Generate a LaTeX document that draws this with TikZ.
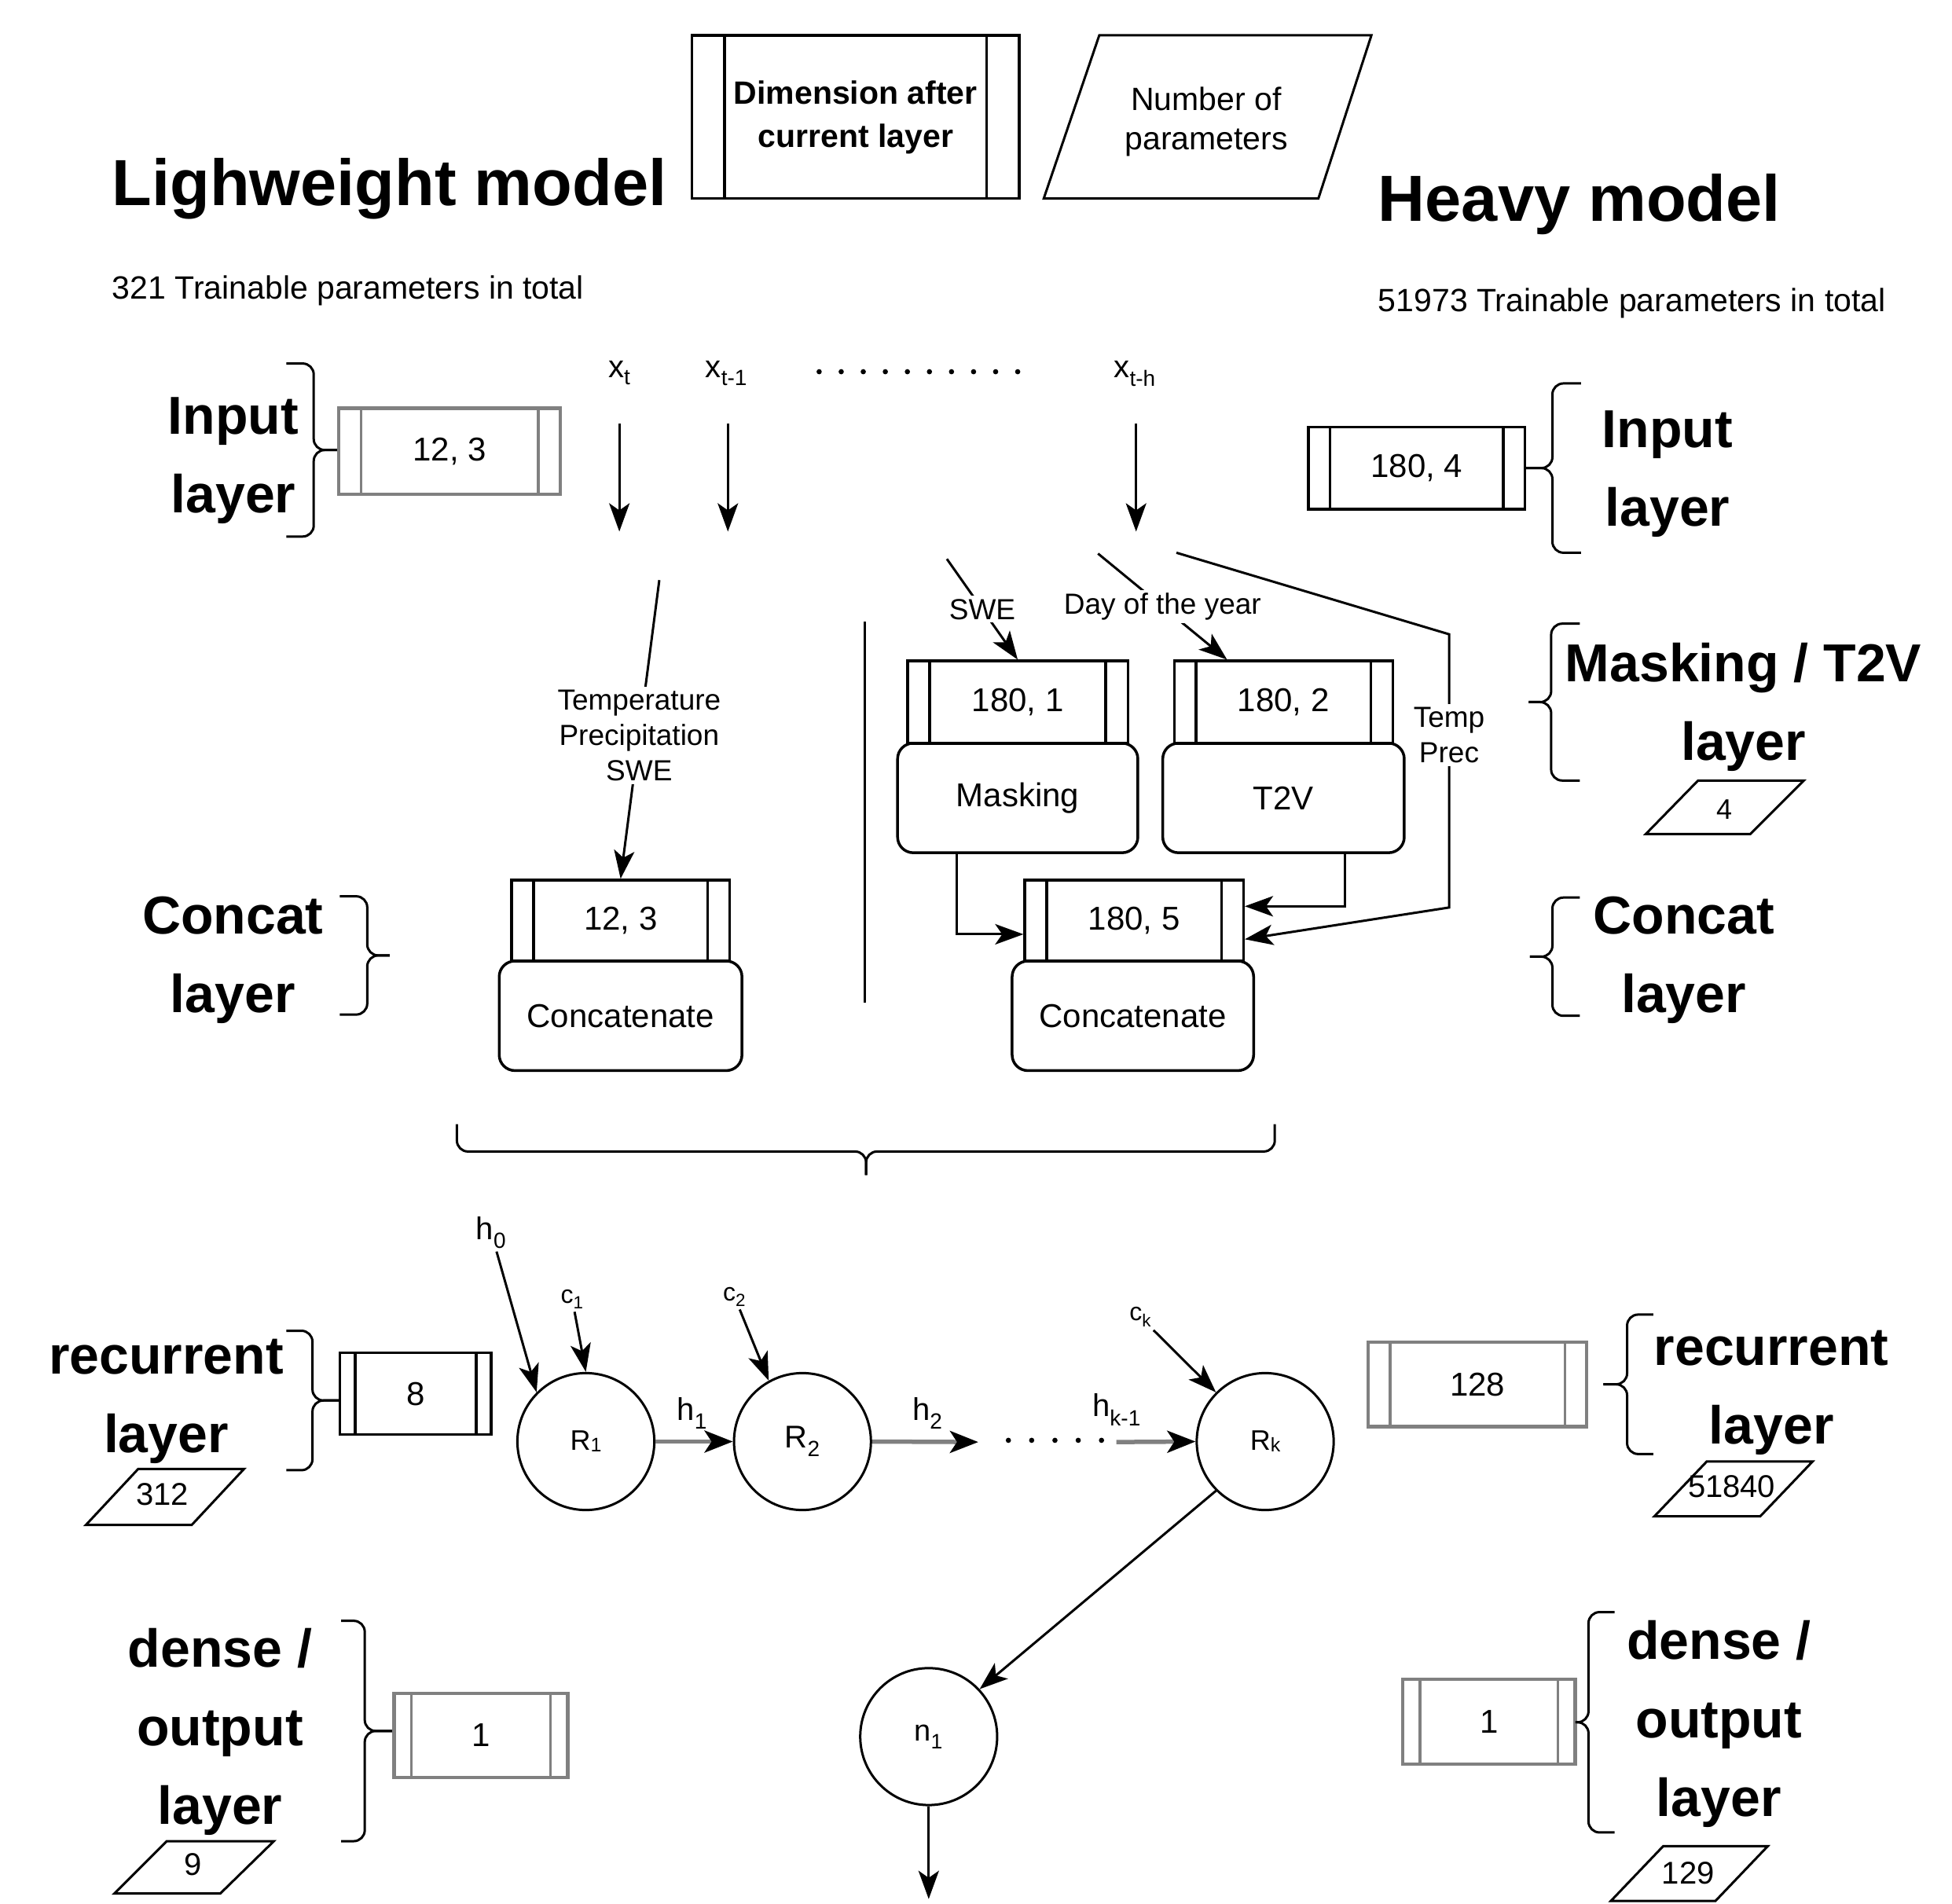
\documentclass[tikz,border=0pt]{standalone}
\usepackage{fontspec}
\setmainfont{Liberation Sans}
\usetikzlibrary{arrows.meta,calc}
\newcommand\upx{1.5842pt}
\definecolor{lg}{HTML}{808080}
\newcommand\fsz[2]{\fontsize{#1}{#2}\selectfont}
% curly brace: stub x, vertical x, tip x, top y, bottom y
\newcommand\curlyb[5]{%
  \draw[brc] (#1,#4) -- (#2,#4) -- (#2,{(#4+#5)/2}) -- (#3,{(#4+#5)/2});
  \draw[brc] (#1,#5) -- (#2,#5) -- (#2,{(#4+#5)/2}) -- (#3,{(#4+#5)/2});}
\begin{document}
\begin{tikzpicture}[x=\upx, y=-\upx,
  ln/.style={line width=3pt},
  sz/.style 2 args={minimum width=#1*\upx, minimum height=#2*\upx},
  proc/.style={draw=#1, line width=3.5pt, fill=white, inner sep=0pt, font=\fsz{42}{50},
    path picture={
      \draw[#1, line width=3.5pt]
        ($(path picture bounding box.north west)!0.1!(path picture bounding box.north east)$) --
        ($(path picture bounding box.south west)!0.1!(path picture bounding box.south east)$)
        ($(path picture bounding box.north west)!0.9!(path picture bounding box.north east)$) --
        ($(path picture bounding box.south west)!0.9!(path picture bounding box.south east)$);
    }},
  proc/.default=black,
  rbox/.style={draw, line width=3.5pt, rounded corners=20pt, fill=white, inner sep=0pt, font=\fsz{42}{50}},
  circ/.style={draw, circle, line width=3pt, minimum size=110*\upx, inner sep=0pt},
  arr/.style={line width=3pt, -{Stealth[length=36pt, width=26pt, inset=9pt]}},
  harr/.style={draw=lg, line width=5.5pt, -{Stealth[length=36pt, width=28pt, inset=9pt, color=black]}},
  brc/.style={line width=3pt, rounded corners=14pt},
  big/.style={font=\bfseries\fsz{68}{100}, align=center, inner sep=0pt},
  title/.style={font=\bfseries\fsz{83}{100}, inner sep=0pt, anchor=base west},
  subt/.style={font=\fsz{41}{50}, inner sep=0pt, anchor=base west},
  xl/.style={font=\fsz{40}{48}, inner sep=0pt, anchor=base},
  hl/.style={font=\fsz{40}{48}, inner sep=4pt},
  cl/.style={font=\fsz{32}{38}, inner sep=4pt},
  lbl/.style={font=\fsz{37}{45}, align=center, fill=white, inner sep=4pt},
  num/.style={font=\fsz{40}{48}, inner sep=0pt},
  para/.style={line width=3pt, line join=miter}
]
\useasboundingbox (0,0) rectangle (1568,1529);

% ---- titles
\node[title] (tL) at (90,165) {Lighweight model};
\node[subt] (sL) at (90,240) {321 Trainable parameters in total};
\node[title] (tH) at (1107,178) {Heavy model};
\node[subt] (sH) at (1107,250) {51973 Trainable parameters in total};

% ---- legend
\node[proc, sz={263}{131}, font=\bfseries\fsz{41}{55}, align=center] (legdim) at (687.3,94) {Dimension after\\current layer};
\draw[para] (883,28.4) -- (1101.6,28.4) -- (1059,159.5) -- (838.4,159.5) -- cycle;
\node[font=\fsz{41}{50}, align=center, inner sep=0pt] (legpar) at (969,98) {Number of\\parameters};

% ---- input layer (left)
\node[big] (inL) at (187.5,370) {Input\\layer};
\curlyb{230}{252}{272.4}{292}{431}
\node[proc=lg, sz={178}{69}, line width=4.5pt] (inLdim) at (361.2,362.5) {12, 3};

% ---- sequence inputs
\node[xl] (xt) at (497.5,303) {x\textsubscript{t}};
\node[xl] (xt1) at (583.5,303) {x\textsubscript{t-1}};
\node[xl] (xth) at (911.6,303) {x\textsubscript{t-h}};
\foreach \i in {0,...,9} \fill (658+17.72*\i,298.6) circle (2.1);
\coordinate (a1s) at (497.5,340); \coordinate (a1e) at (497.5,427);
\coordinate (a2s) at (584.7,340); \coordinate (a2e) at (584.7,427);
\coordinate (a3s) at (912.6,340); \coordinate (a3e) at (912.6,427);
\draw[arr] (a1s) -- (a1e);
\draw[arr] (a2s) -- (a2e);
\draw[arr] (a3s) -- (a3e);

% ---- input layer (right)
\node[proc, sz={174}{66}] (inRdim) at (1138,376) {180, 4};
\curlyb{1270}{1247}{1225}{308}{444}
\node[big] (inR) at (1339.5,381) {Input\\layer};

% ---- divider
\coordinate (dv1) at (694.4,499.6); \coordinate (dv2) at (694.4,805.5);
\draw[ln] (dv1) -- (dv2);

% ---- left concat
\node[rbox, sz={195}{88}] (lcat) at (498.5,816) {Concatenate};
\node[proc, sz={175}{65}] (lcdim) at (498.5,739.5) {12, 3};
\coordinate (lb) at (529.6,466);
\draw[arr] (lb) -- node[lbl, pos=0.52] (lblL) {Temperature\\Precipitation\\SWE} (lcdim.north);

% ---- masking / T2V
\node[rbox, sz={193}{88}] (mask) at (817.5,641) {Masking};
\node[proc, sz={177}{66}] (maskdim) at (817.5,564) {180, 1};
\node[rbox, sz={194}{88}] (t2v) at (1031,641) {T2V};
\node[proc, sz={175.5}{66}] (t2vdim) at (1031,564) {180, 2};
\node[rbox, sz={194}{88}] (rcat) at (910,816) {Concatenate};
\node[proc, sz={175.6}{65}] (rcdim) at (911,739.5) {180, 5};

\coordinate (swes) at (760.6,449);
\draw[arr] (swes) -- node[lbl] (lswe) {SWE} (maskdim.north);
\coordinate (days) at (882,444.7);
\draw[arr] (days) -- node[lbl] (lday) {Day of the year} ($(t2vdim.north west)!0.245!(t2vdim.north east)$);
\coordinate (tps) at (945,444);
\coordinate (tpc) at (1164,509.5);
\coordinate (tpd) at (1164,729);
\draw[arr] (tps) -- (tpc) -- node[lbl, pos=0.37] (ltp) {Temp\\Prec} (tpd) -- ($(rcdim.east)+(0,15)$);
\draw[arr] ($(mask.south west)!0.25!(mask.south east)$) |- ($(rcdim.west)+(0,11)$);
\draw[arr] ($(t2v.south west)!0.75!(t2v.south east)$) |- ($(rcdim.east)+(0,-11.5)$);

\node[big] (mtl) at (1400.4,568) {Masking / T2V\\layer};
\curlyb{1269}{1246}{1228}{501}{627}
\draw[para] (1364,627) -- (1449,627) -- (1406,670) -- (1322,670) -- cycle;
\node[num, font=\fsz{36}{42}] (p4) at (1385,650) {4};

% ---- concat labels
\node[big] (ccL) at (187,771) {Concat\\layer};
\curlyb{273}{295}{313}{720}{815}
\node[big] (ccR) at (1352.5,771) {Concat\\layer};
\curlyb{1269}{1247}{1229}{721}{816}

% ---- big brace
\draw[brc] (367,903) -- (367,925) -- (695.7,925) -- (695.7,944);
\draw[brc] (1024,903) -- (1024,925) -- (695.7,925) -- (695.7,944);

% ---- recurrent
\node[circ] (R1) at (470.6,1158) {\fsz{36}{42}R\raisebox{-2pt}{\fsz{25}{30}1}};
\node[circ] (R2) at (644.6,1158) {\fsz{40}{46}R\textsubscript{2}};
\node[circ] (Rk) at (1016.3,1158) {\fsz{36}{42}R\raisebox{-2pt}{\fsz{25}{30}k}};
\node[circ] (n1) at (746,1395) {\fsz{38}{44}n\textsubscript{1}};

\node[hl] (h0) at (394.5,990) {h\textsubscript{0}};
\draw[arr] (h0) -- (R1.135);
\node[cl] (c1) at (459.6,1043.5) {c\textsubscript{1}};
\draw[arr] (c1) -- (R1.north);
\node[cl] (c2) at (590,1041.6) {c\textsubscript{2}};
\draw[arr] (c2) -- (R2.119);
\node[cl] (ck) at (916,1058) {c\textsubscript{k}};
\draw[arr] (ck) -- (Rk.135);

\node[xl] (h1) at (556,1141) {h\textsubscript{1}};
\node[xl] (h2) at (745,1141) {h\textsubscript{2}};
\node[xl] (hk) at (897,1138) {h\textsubscript{k-1}};
\draw[harr] (R1.east) -- (R2.west);
\coordinate (h2e) at (785.8,1158.4);
\draw[harr] (R2.east) -- (h2e);
\coordinate (hks) at (896.8,1158.4);
\draw[harr] (hks) -- (Rk.west);
\foreach \i in {0,...,4} \fill (810+18.7*\i,1157) circle (2.1);

\draw[arr] (Rk.225) -- (n1.43);
\coordinate (outp) at (746,1525.5);
\draw[arr] (n1.south) -- (outp);

% recurrent labels
\node[big] (recL) at (133.5,1126) {recurrent\\layer};
\curlyb{230}{251}{273}{1069}{1181}
\node[proc, sz={121.5}{65.7}] (recLdim) at (333.8,1119.6) {8};
\draw[para] (111,1180) -- (196,1180) -- (154,1225) -- (69,1225) -- cycle;
\node[num] (p312) at (130.4,1200.5) {312};

\node[proc=lg, sz={175.5}{67.7}, line width=4.5pt] (recRdim) at (1186.8,1112) {128};
\curlyb{1328}{1307}{1288}{1056}{1168}
\node[big] (recR) at (1422.9,1119) {recurrent\\layer};
\draw[para] (1371,1174) -- (1456,1174) -- (1414,1218) -- (1329,1218) -- cycle;
\node[num] (p51840) at (1391,1194) {51840};

% dense labels
\node[big] (denL) at (176.7,1391) {dense /\\output\\layer};
\curlyb{274}{293}{316.6}{1302}{1479}
\node[proc=lg, sz={139.4}{67.4}, line width=4.5pt] (denLdim) at (386.3,1394) {1};
\draw[para] (134,1479) -- (220,1479) -- (177,1521) -- (92,1521) -- cycle;
\node[num] (p9) at (155,1497.5) {9};

\node[proc=lg, sz={138.7}{68}, line width=4.5pt] (denRdim) at (1196,1383) {1};
\curlyb{1297}{1276}{1265.5}{1295}{1472}
\node[big] (denR) at (1380.7,1385) {dense /\\output\\layer};
\draw[para] (1336,1483) -- (1420,1483) -- (1378,1527) -- (1294,1527) -- cycle;
\node[num] (p129) at (1356,1505) {129};
\end{tikzpicture}
\end{document}
